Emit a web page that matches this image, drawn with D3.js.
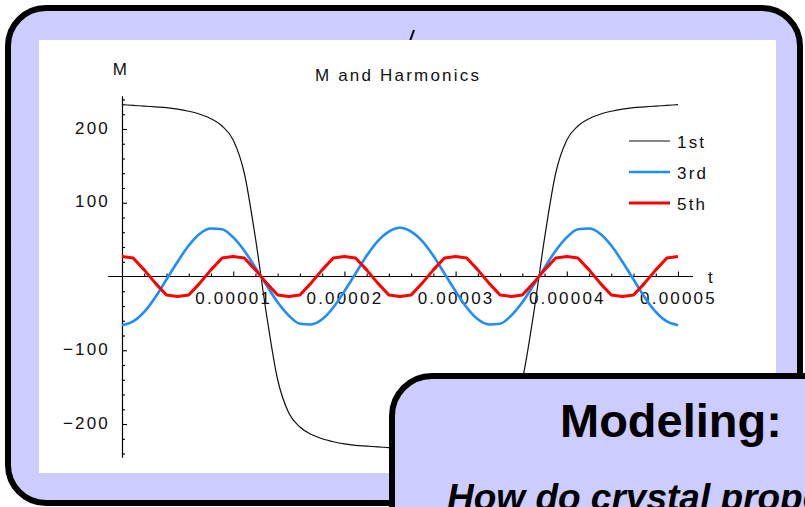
<!DOCTYPE html>
<html>
<head>
<meta charset="utf-8">
<script src="https://cdn.jsdelivr.net/npm/d3@7"></script>
<style>
  html, body { margin: 0; padding: 0; overflow: hidden; background: #fff; }
</style>
</head>
<body>
<div id="chart"></div>
<script>
// time samples, in microseconds
const timeUs = [0,1,2,3,4,5,6,7,8,9,10,11,12,13,14,15,16,17,18,19,20,21,22,23,24,25,
  26,27,28,29,30,31,32,33,34,35,36,37,38,39,40,41,42,43,44,45,46,47,48,49,50];

// M (1st) and its harmonics
const first = [233,232,231,230,229,227,224,220,214,204,185,140,52,-52,-140,-185,-204,-214,-220,-224,-227,-229,-230,-231,-232,-233,
  -232,-231,-230,-229,-227,-224,-220,-214,-204,-185,-140,-52,52,140,185,204,214,220,224,227,229,230,231,232,233];
const third = [-66,-61,-48,-28,-4,20,42,58,65,64,53,35,12,-12,-35,-53,-64,-65,-58,-42,-20,4,28,48,61,66,
  61,48,28,4,-20,-42,-58,-65,-64,-53,-35,-12,12,35,53,64,65,58,42,20,-4,-28,-48,-61,-66];
const fifth = [27,25,9,-9,-25,-27,-25,-9,9,25,27,25,9,-9,-25,-27,-25,-9,9,25,27,25,9,-9,-25,-27,
  -25,-9,9,25,27,25,9,-9,-25,-27,-25,-9,9,25,27,25,9,-9,-25,-27,-25,-9,9,25,27];

const seriesNames = ['1st', '3rd', '5th'];
const xMajorTicks = [0.00001, 0.00002, 0.00003, 0.00004, 0.00005];
const xMinorTicks = [0.000002,0.000004,0.000006,0.000008,0.000012,0.000014,0.000016,0.000018,
  0.000022,0.000024,0.000026,0.000028,0.000032,0.000034,0.000036,0.000038,0.000042,0.000044,0.000046,0.000048];
const yMajorTicks = [-200, -100, 100, 200];
const yMinorTicks = [-240,-220,-180,-160,-140,-120,-80,-60,-40,-20,20,40,60,80,120,140,160,180,220,240];

const W = 805, H = 507;
const chartFont = '"Liberation Sans", Arial, Helvetica, sans-serif';

const svg = d3.select('#chart').append('svg')
  .attr('width', W)
  .attr('height', H);

// slide frame
svg.append('rect')
  .attr('x', 8).attr('y', 8)
  .attr('width', 792).attr('height', 495)
  .attr('rx', 38).attr('ry', 38)
  .attr('fill', '#ccccff')
  .attr('stroke', '#000')
  .attr('stroke-width', 6);

// stray stroke peeking above the picture
svg.append('path')
  .attr('d', 'M414,30 L410,41')
  .attr('stroke', '#000')
  .attr('stroke-width', 2);

// white plot picture
svg.append('rect')
  .attr('x', 39).attr('y', 40)
  .attr('width', 737).attr('height', 433)
  .attr('fill', '#fff');

const x = d3.scaleLinear().domain([0, 0.00005]).range([122, 678]);
const y = d3.scaleLinear().domain([-245, 245]).range([457.2, 95.8]);

const chart = svg.append('g')
  .attr('font-family', chartFont)
  .style('letter-spacing', '2.2px');

// x axis (ticks point up, labels below)
chart.append('line')
  .attr('x1', x(-0.00000125)).attr('x2', x(0.00005135))
  .attr('y1', y(0)).attr('y2', y(0))
  .attr('stroke', '#000').attr('stroke-width', 1.2);

const xMajor = chart.append('g')
  .attr('transform', `translate(0,${y(0)})`)
  .call(d3.axisBottom(x).tickValues(xMajorTicks).tickSize(-5).tickPadding(15.5).tickFormat(d3.format('.5f')));
const xMinor = chart.append('g')
  .attr('transform', `translate(0,${y(0)})`)
  .call(d3.axisBottom(x).tickValues(xMinorTicks).tickSize(-3).tickFormat(''));

// y axis (ticks point right, labels left)
const yMajor = chart.append('g')
  .attr('transform', `translate(${x(0)},0)`)
  .call(d3.axisLeft(y).tickValues(yMajorTicks).tickSize(-5).tickSizeOuter(0).tickPadding(12).tickFormat(d3.format('d')));
const yMinor = chart.append('g')
  .attr('transform', `translate(${x(0)},0)`)
  .call(d3.axisLeft(y).tickValues(yMinorTicks).tickSize(-3).tickFormat(''));

[xMajor, xMinor, yMinor].forEach(g => g.select('.domain').remove());
yMajor.select('.domain').attr('stroke-width', 1.2);
[xMajor, xMinor, yMajor, yMinor].forEach(g => {
  g.attr('font-size', 17).attr('font-family', chartFont);
  g.selectAll('.tick line').attr('stroke', '#000').attr('stroke-width', 1.1);
  g.selectAll('.tick text').attr('fill', '#111');
});
yMajor.selectAll('.tick text').attr('dy', '0.25em');

// axis names and title
chart.append('text')
  .attr('x', 121).attr('y', 75)
  .attr('text-anchor', 'middle')
  .attr('font-size', 17).attr('fill', '#111')
  .text('M');
chart.append('text')
  .attr('x', 708).attr('y', 283)
  .attr('font-size', 17).attr('fill', '#111')
  .text('t');
chart.append('text')
  .attr('x', 398).attr('y', 81)
  .attr('text-anchor', 'middle')
  .attr('font-size', 17).attr('fill', '#111')
  .text('M and Harmonics');

// curves
const series = [
  { name: seriesNames[0], values: first, color: '#111', width: 1.2, curve: d3.curveMonotoneX },
  { name: seriesNames[1], values: third, color: '#1e8cff', width: 2.6, curve: d3.curveMonotoneX },
  { name: seriesNames[2], values: fifth, color: '#ff0000', width: 3, curve: d3.curveLinear }
];

series.forEach(s => {
  const line = d3.line()
    .x((d, i) => x(timeUs[i] * 1e-6))
    .y(d => y(d))
    .curve(s.curve);
  chart.append('path')
    .datum(s.values)
    .attr('fill', 'none')
    .attr('stroke', s.color)
    .attr('stroke-width', s.width)
    .attr('stroke-linejoin', 'round')
    .attr('d', line);
});

// legend
const legend = chart.selectAll('.legend')
  .data(series)
  .enter().append('g')
  .attr('class', 'legend')
  .attr('transform', (d, i) => `translate(0,${141 + i * 31})`);

legend.append('line')
  .attr('x1', 629).attr('x2', 670)
  .attr('stroke', d => d.color)
  .attr('stroke-width', d => d.width);

legend.append('text')
  .attr('x', 677).attr('y', 7)
  .attr('font-size', 17).attr('fill', '#111')
  .text(d => d.name);

// overlapping "Modeling" box
svg.append('rect')
  .attr('x', 392).attr('y', 376)
  .attr('width', 500).attr('height', 300)
  .attr('rx', 40).attr('ry', 40)
  .attr('fill', '#ccccff')
  .attr('stroke', '#000')
  .attr('stroke-width', 6);

svg.append('text')
  .attr('x', 560).attr('y', 437)
  .attr('font-family', chartFont)
  .attr('font-weight', 'bold')
  .attr('font-size', 47)
  .attr('fill', '#000')
  .text('Modeling:');

svg.append('text')
  .attr('x', 447).attr('y', 510)
  .attr('font-family', chartFont)
  .attr('font-weight', 'bold')
  .attr('font-style', 'italic')
  .attr('font-size', 37)
  .attr('fill', '#000')
  .text('How do crystal properties');
</script>
</body>
</html>
